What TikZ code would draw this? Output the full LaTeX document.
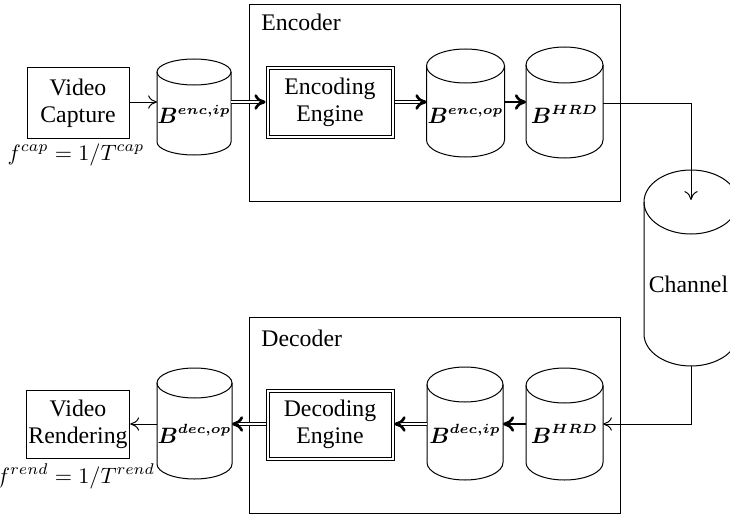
\documentclass[tikz,border=0pt]{standalone}
\usepackage{amsmath}
\usepackage[no-math]{fontspec}
\setmainfont{Liberation Serif}
\usetikzlibrary{arrows.meta,calc}

% buffer name: bold B with a small bold superscript
\newcommand{\bufname}[2]{$\boldsymbol{#1}^{\text{\fontsize{6pt}{7pt}\selectfont$\boldsymbol{#2}$}}$}

% buffer drawn as an upright cylinder:
% #1 name, #2 centre x, #3 top y, #4 bottom y, #5 x radius, #6 cap y radius, #7 label baseline y, #8 label
\newcommand{\bufcyl}[8]{%
  \node[inner sep=0pt, outer sep=0pt, minimum width={2*#5*0.45pt}, minimum height={(#3-#4)*0.45pt}]
    (#1) at (#2,{(#3+#4)/2}) {};
  \draw[frame] ({#2-#5},{#3-#6}) -- ({#2-#5},{#4+#6})
    arc[start angle=180, end angle=360, x radius={#5*0.45pt}, y radius={#6*0.45pt}]
    -- ({#2+#5},{#3-#6});
  \draw[frame] (#2,{#3-#6}) ellipse[x radius={#5*0.45pt}, y radius={#6*0.45pt}];
  \node[anchor=base, inner sep=0pt] at (#2,#7) {#8};
}

\begin{document}
\begin{tikzpicture}[x=0.45pt, y=0.45pt,
  txt/.style={font=\fontsize{10.7pt}{12pt}\selectfont},
  frame/.style={draw=black, line width=0.45pt},
  procbox/.style={txt, draw, line width=0.45pt, align=center, inner sep=1pt},
  engine/.style={txt, draw, line width=0.45pt, double, double distance=0.9pt, align=center,
                 inner sep=1pt, outer sep=0.9pt, minimum width={125*0.45pt}, minimum height={68*0.45pt}},
  thinarr/.style={line width=0.45pt, -{To[length=4pt,width=6pt]}},
  thickarr/.style={line width=1.2pt, -{To[length=5pt,width=7pt]}},
  dblshaft/.style={line width=0.45pt, double, double distance=0.8pt, shorten >=0.8pt},
  tiponly/.style={line width=0.01pt, -{To[length=5pt,width=7pt,line width=1.2pt]}}
]
\useasboundingbox (0,0) rectangle (730,518);

% encoder and decoder frames
\node[draw, line width=0.45pt, inner sep=0pt, minimum width={371*0.45pt}, minimum height={196*0.45pt}]
  (encoder) at (434.5,415) {};
\node[draw, line width=0.45pt, inner sep=0pt, minimum width={371*0.45pt}, minimum height={196*0.45pt}]
  (decoder) at (434.5,103) {};
\node[txt, anchor=base west, inner sep=0pt] (enctitle) at (261,487) {Encoder};
\node[txt, anchor=base west, inner sep=0pt] (dectitle) at (261,172) {Decoder};

% arrow rows
\coordinate (row1) at (0,416);
\coordinate (row2) at (0,94);

% source and sink
\node[procbox, minimum width={102*0.45pt}, minimum height={70*0.45pt}] (cap) at (78,415) {Video\\Capture};
\node[anchor=base, inner sep=0pt] (caprate) at (76,358) {$f^{cap} = 1/T^{cap}$};
\node[procbox, minimum width={102*0.45pt}, minimum height={68*0.45pt}] (rend) at (78,94) {Video\\Rendering};
\node[anchor=base, inner sep=0pt] (rendrate) at (76,35) {$f^{rend} = 1/T^{rend}$};

% engines
\node[engine] (enceng) at (330,415.5) {Encoding\\Engine};
\node[engine] (deceng) at (330,93.5) {Decoding\\Engine};

% buffers
\bufcyl{encip}{194}{459}{363}{37}{13}{394}{\bufname{B}{enc{,}ip}}
\bufcyl{encop}{465.5}{469}{361}{39}{17}{394}{\bufname{B}{enc{,}op}}
\bufcyl{enchrd}{564.5}{471}{360}{38.5}{18}{394}{\bufname{B}{HRD}}
\bufcyl{decop}{194.5}{150}{39}{37.5}{15}{75}{\bufname{B}{dec{,}op}}
\bufcyl{decip}{465}{151}{38}{38}{17.5}{75}{\bufname{B}{dec{,}ip}}
\bufcyl{dechrd}{564.5}{150}{38}{38.5}{17.5}{75}{\bufname{B}{HRD}}

% channel
\bufcyl{channel}{691}{348}{152}{47}{32}{226}{}
\node[txt, anchor=base, inner sep=0pt] (chlabel) at (688.5,226) {Channel};
\coordinate (chcap) at (691,318);

% encoder side connectors
\draw[thinarr] (cap.east |- row1) -- (encip.west |- row1);
\draw[dblshaft] (encip.east |- row1) -- (enceng.west |- row1);
\draw[tiponly] ($(enceng.west |- row1)+(-3pt,0)$) -- (enceng.west |- row1);
\draw[dblshaft] (enceng.east |- row1) -- (encop.west |- row1);
\draw[tiponly] ($(encop.west |- row1)+(-3pt,0)$) -- (encop.west |- row1);
\draw[thickarr] (encop.east |- row1) -- (enchrd.west |- row1);
\draw[thinarr] (enchrd.east |- 0,415) -| (chcap);

% decoder side connectors
\draw[thinarr] (channel.south) |- (dechrd.east |- row2);
\draw[thickarr] (dechrd.west |- row2) -- (decip.east |- row2);
\draw[dblshaft] (decip.west |- row2) -- (deceng.east |- row2);
\draw[tiponly] ($(deceng.east |- row2)+(3pt,0)$) -- (deceng.east |- row2);
\draw[dblshaft] (deceng.west |- row2) -- (decop.east |- row2);
\draw[tiponly] ($(decop.east |- row2)+(3pt,0)$) -- (decop.east |- row2);
\draw[thinarr] (decop.west |- row2) -- (rend.east |- row2);
\end{tikzpicture}
\end{document}
